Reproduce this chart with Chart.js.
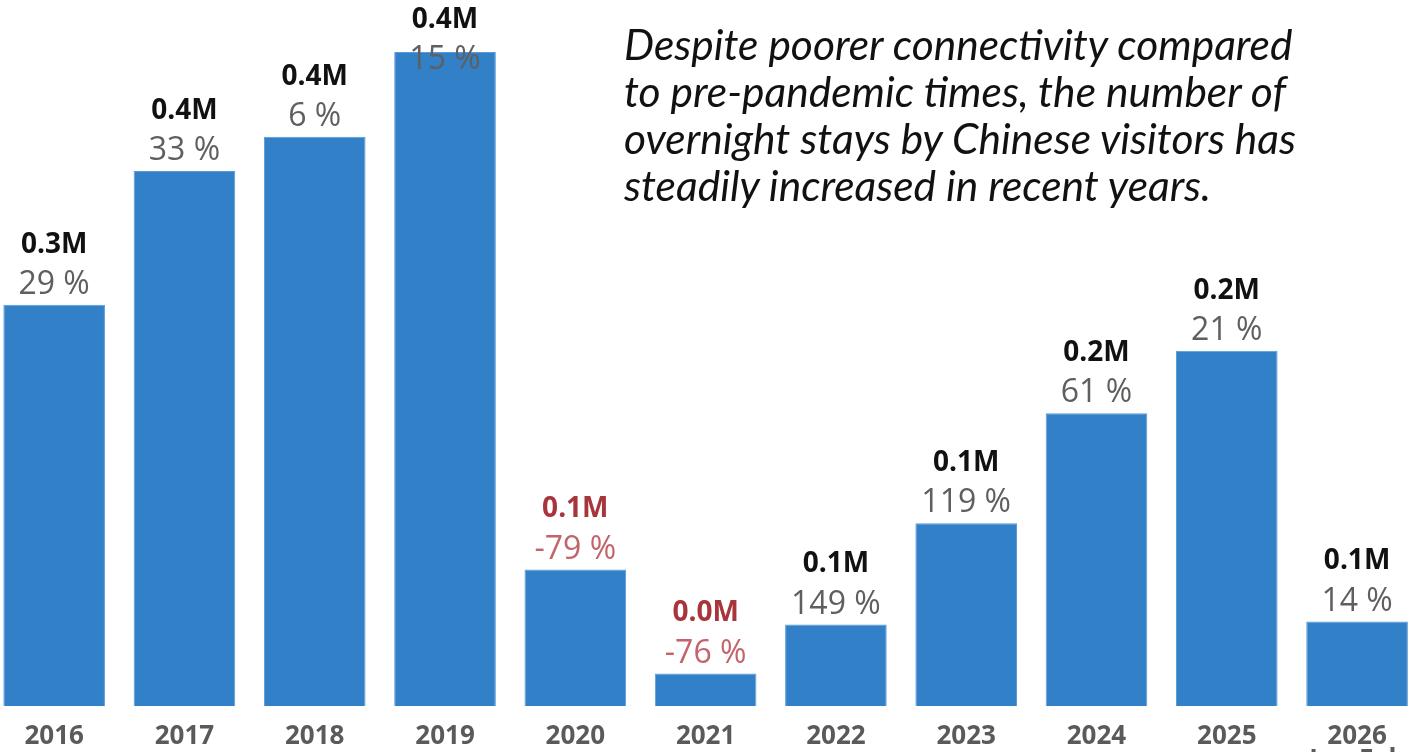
<!DOCTYPE html>
<html>
<head>
<meta charset="utf-8">
<script src="https://cdn.jsdelivr.net/npm/chart.js@4/dist/chart.umd.min.js"></script>
<style>
  html, body { margin: 0; padding: 0; background: #fff; overflow: hidden; width: 1416px; height: 752px; }
  #wrap { position: absolute; left: -11px; top: 0; width: 1435px; height: 791px; }
  #note {
    position: absolute; left: 624px; top: 20px; width: 780px;
    font-family: "Lato", sans-serif; font-style: italic; font-size: 42.5px;
    line-height: 47px; color: #111;
  }
</style>
</head>
<body>
<div id="wrap"><canvas id="myChart"></canvas></div>
<div id="note">Despite poorer connectivity compared<br>to pre-pandemic times, the number of<br>overnight stays by Chinese visitors has<br>steadily increased in recent years.</div>
<script>
// overnight stays, millions
var years = ["2016", "2017", "2018", "2019", "2020", "2021", "2022", "2023", "2024", "2025", ["2026", "Jan-Feb"]];
var stays = [0.270, 0.360, 0.383, 0.440, 0.092, 0.022, 0.055, 0.123, 0.197, 0.239, 0.057];
var change = [29, 33, 6, 15, -79, -76, 149, 119, 61, 21, 14];

var barLabels = {
    id: 'barLabels',
    afterDatasetsDraw: function(chart) {
        var ctx = chart.ctx;
        var meta = chart.getDatasetMeta(0);
        ctx.save();
        ctx.textAlign = 'center';
        ctx.textBaseline = 'middle';
        meta.data.forEach(function(bar, i) {
            var neg = change[i] < 0;
            var mY = Math.max(bar.y - 60, 20);
            ctx.font = 'bold 28px "Open Sans", sans-serif';
            ctx.fillStyle = neg ? '#a8343c' : '#111111';
            ctx.fillText(stays[i].toFixed(1) + 'M', bar.x, mY);
            ctx.font = '32px "Open Sans", sans-serif';
            ctx.fillStyle = neg ? '#c2646b' : '#5f5f5f';
            ctx.fillText(change[i] + ' %', bar.x, mY + 40);
        });
        ctx.restore();
    }
};

var ctx = document.getElementById('myChart').getContext('2d');
var chart = new Chart(ctx, {
    type: 'bar',
    data: {
        labels: years,
        datasets: [{
            data: stays,
            backgroundColor: '#3280c8',
            borderColor: '#5a9ad6',
            borderWidth: 1,
            barPercentage: 0.78,
            categoryPercentage: 1.0
        }]
    },
    options: {
        responsive: true,
        maintainAspectRatio: false,
        animation: false,
        layout: { padding: 0 },
        plugins: { legend: { display: false }, tooltip: { enabled: false } },
        scales: {
            x: {
                grid: { display: false, drawTicks: false },
                border: { display: false },
                ticks: {
                    padding: 19,
                    color: '#5a5a5a',
                    font: { family: '"Open Sans", sans-serif', size: 26, weight: 'bold', lineHeight: 0.9 }
                }
            },
            y: {
                display: false,
                min: 0,
                max: 0.475
            }
        }
    },
    plugins: [barLabels]
});
</script>
</body>
</html>
